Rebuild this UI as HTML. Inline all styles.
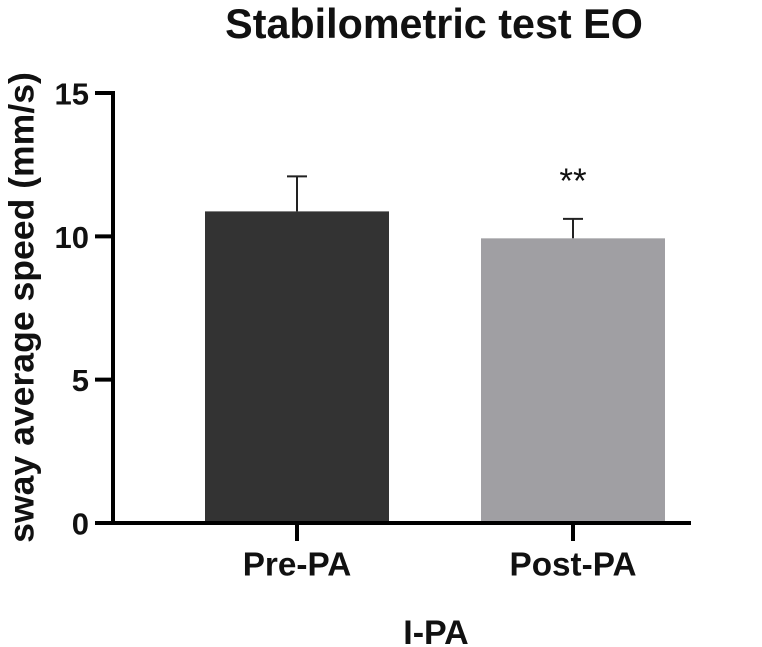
<!DOCTYPE html>
<html>
<head>
<meta charset="utf-8">
<style>
html,body{margin:0;padding:0;background:#fff;width:762px;height:647px;overflow:hidden}
svg{display:block;filter:blur(0.35px)}
text{font-family:"Liberation Sans",Arial,sans-serif;font-weight:bold;fill:#111}
</style>
</head>
<body>
<svg id="chart" width="762" height="647" viewBox="0 0 762 647" xmlns="http://www.w3.org/2000/svg"></svg>
<script>
const categories = ["Pre-PA", "Post-PA"];
const seriesValues = [10.87, 9.93];
const errorValues = [1.22, 0.68];
const annotations = ["", "**"];
const barColors = ["#333333", "#a09fa3"];
const yTickValues = [0, 5, 10, 15];
const yTickLabels = ["0", "5", "10", "15"];

const svgNS = "http://www.w3.org/2000/svg";
const chart = document.getElementById("chart");
const yScale = function (v) { return 523 - (v / 15) * 430; };
const xScale = function (i) { return 297 + i * 276; };
const barWidth = 184;

function make(tag, attrs, text) {
  const el = document.createElementNS(svgNS, tag);
  for (const k in attrs) el.setAttribute(k, attrs[k]);
  if (text !== undefined) el.textContent = text;
  chart.appendChild(el);
  return el;
}

const title = make("text", {x: 434, y: 38, "text-anchor": "middle", "font-size": 41.3}, "Stabilometric test EO");



const yTitle = make("text", {x: 0, y: 0, "text-anchor": "middle", "font-size": 35.6, transform: "translate(33.5,307.5) rotate(-90)"}, "sway average speed (mm/s)");



const xTitle = make("text", {x: 436, y: 644, "text-anchor": "middle", "font-size": 34}, "I-PA");



categories.forEach(function (c, i) {
  const cx = xScale(i);
  const top = yScale(seriesValues[i]);
  const errTop = yScale(seriesValues[i] + errorValues[i]);

  const stem = make("line", {x1: cx, x2: cx, y1: errTop, y2: top, stroke: "#222", "stroke-width": 2});
  
  

  const cap = make("line", {x1: cx - 10, x2: cx + 10, y1: errTop, y2: errTop, stroke: "#222", "stroke-width": 2});
  
  

  const bar = make("rect", {x: cx - barWidth / 2, y: top, width: barWidth, height: yScale(0) - top, fill: barColors[i]});
  
  

  const tick = make("line", {x1: cx, x2: cx, y1: yScale(0), y2: 541, stroke: "#000", "stroke-width": 4});
  
  

  const label = make("text", {x: cx, y: 575.5, "text-anchor": "middle", "font-size": 33.3}, c);
  
  

  if (annotations[i]) {
    const note = make("text", {x: cx, y: 193, "text-anchor": "middle", "font-size": 35, style: "font-weight:normal"}, annotations[i]);
    
    
  }
});

const yAxis = make("line", {x1: 113, x2: 113, y1: yScale(15) - 2, y2: yScale(0) + 2, stroke: "#000", "stroke-width": 4});



const xAxis = make("line", {x1: 95, x2: 691, y1: yScale(0), y2: yScale(0), stroke: "#000", "stroke-width": 4});



yTickValues.forEach(function (v, i) {
  const y = yScale(v);
  const tick = make("line", {x1: 95, x2: 113, y1: y, y2: y, stroke: "#000", "stroke-width": 4});
  
  

  const label = make("text", {x: 89, y: y + 11.5, "text-anchor": "end", "font-size": 31}, yTickLabels[i]);
  
  
});
</script>
</body>
</html>
